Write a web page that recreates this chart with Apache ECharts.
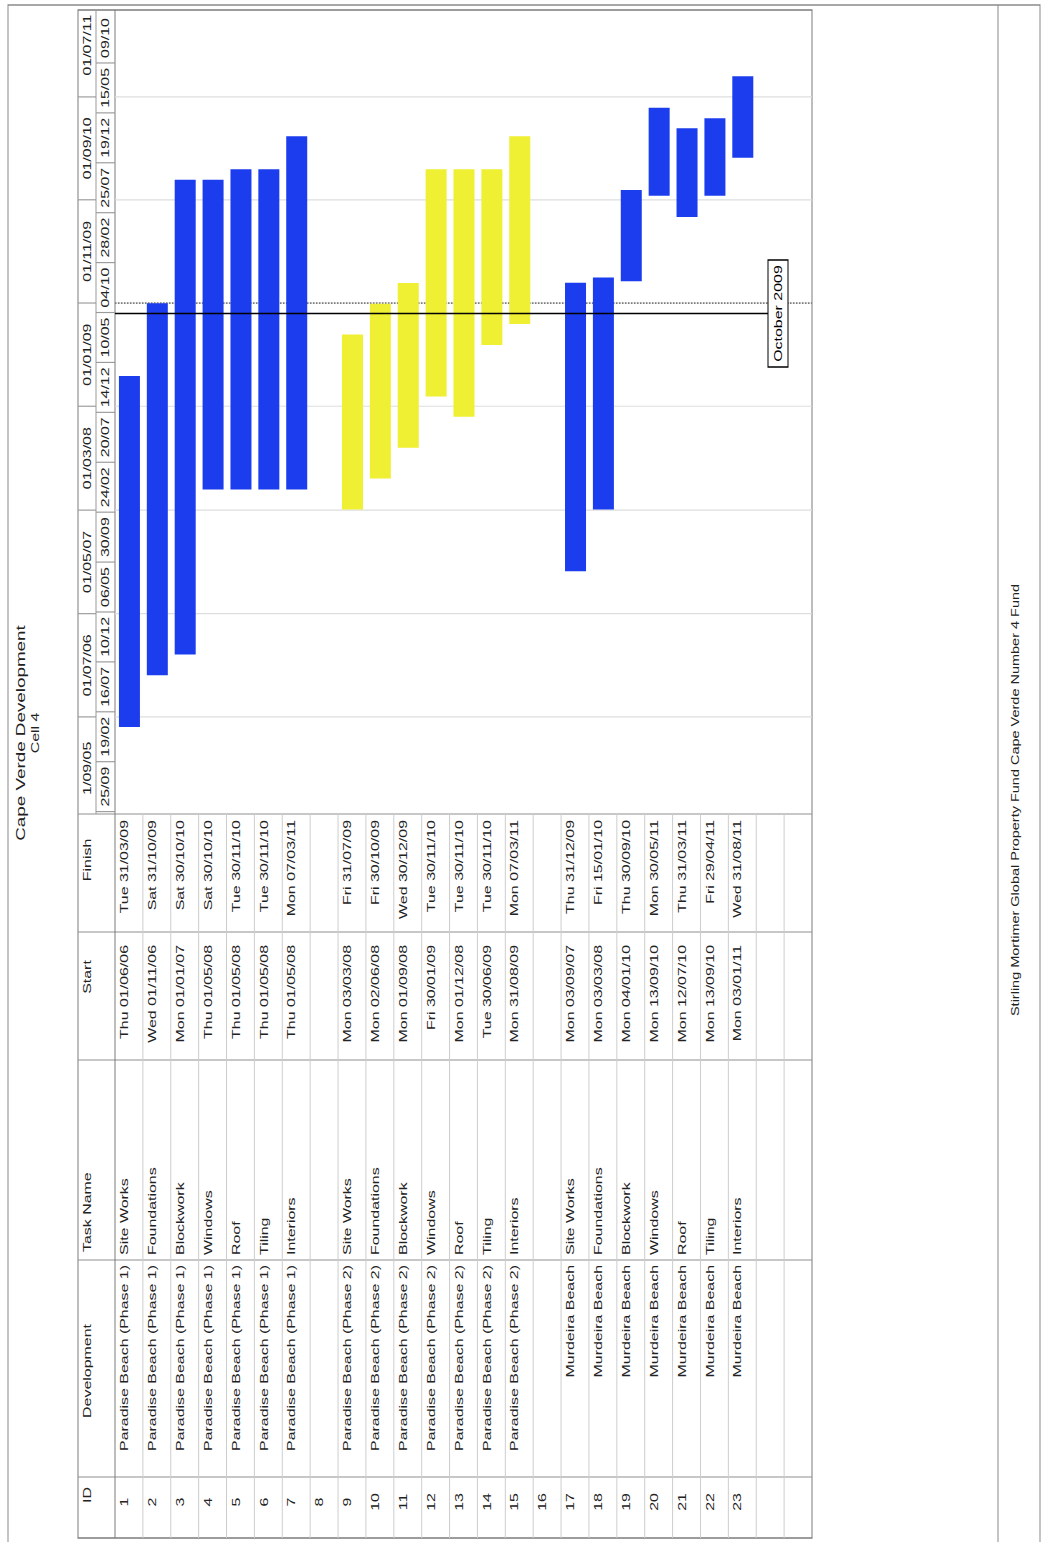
<!DOCTYPE html>
<html>
<head>
<meta charset="utf-8">
<title>Cape Verde Development - Cell 4</title>
<script src="https://cdn.jsdelivr.net/npm/echarts@6/dist/echarts.min.js"></script>
<style>
  html, body { margin: 0; padding: 0; background: #fff; overflow: hidden; width: 1043px; height: 1542px; }
  /* The sheet is laid out in landscape and turned a quarter to the left;
     the time direction is stretched to fill the long side. */
  #sheet {
    position: absolute; left: 0; top: 0;
    width: 1064px; height: 1043px;
    transform-origin: 0 0;
    transform: translate(0, 1542px) rotate(-90deg) scaleX(1.4492481);
  }
</style>
</head>
<body>
<div id="sheet"></div>
<script>
// ---------------- schedule data ----------------
const rowIds = ['1','2','3','4','5','6','7','8','9','10','11','12','13','14','15','16','17','18','19','20','21','22','23','',''];

const developments = [
  'Paradise Beach (Phase 1)','Paradise Beach (Phase 1)','Paradise Beach (Phase 1)','Paradise Beach (Phase 1)',
  'Paradise Beach (Phase 1)','Paradise Beach (Phase 1)','Paradise Beach (Phase 1)',
  '',
  'Paradise Beach (Phase 2)','Paradise Beach (Phase 2)','Paradise Beach (Phase 2)','Paradise Beach (Phase 2)',
  'Paradise Beach (Phase 2)','Paradise Beach (Phase 2)','Paradise Beach (Phase 2)',
  '',
  'Murdeira Beach','Murdeira Beach','Murdeira Beach','Murdeira Beach',
  'Murdeira Beach','Murdeira Beach','Murdeira Beach',
  '', ''
];

const taskNames = [
  'Site Works','Foundations','Blockwork','Windows','Roof','Tiling','Interiors',
  '',
  'Site Works','Foundations','Blockwork','Windows','Roof','Tiling','Interiors',
  '',
  'Site Works','Foundations','Blockwork','Windows','Roof','Tiling','Interiors',
  '', ''
];

const startDates = [
  '2006-06-01','2006-11-01','2007-01-01','2008-05-01','2008-05-01','2008-05-01','2008-05-01',
  null,
  '2008-03-03','2008-06-02','2008-09-01','2009-01-30','2008-12-01','2009-06-30','2009-08-31',
  null,
  '2007-09-03','2008-03-03','2010-01-04','2010-09-13','2010-07-12','2010-09-13','2011-01-03',
  null, null
];

const finishDates = [
  '2009-03-31','2009-10-31','2010-10-30','2010-10-30','2010-11-30','2010-11-30','2011-03-07',
  null,
  '2009-07-31','2009-10-30','2009-12-30','2010-11-30','2010-11-30','2010-11-30','2011-03-07',
  null,
  '2009-12-31','2010-01-15','2010-09-30','2011-05-30','2011-03-31','2011-04-29','2011-08-31',
  null, null
];

const barColors = {
  'Paradise Beach (Phase 1)': '#1b3ded',
  'Paradise Beach (Phase 2)': '#efef34',
  'Murdeira Beach': '#1b3ded'
};

// timescale tiers (each list closes with the end of its last cell)
const topTierDates = ['2005-09-01','2006-07-01','2007-05-01','2008-03-01','2009-01-01','2009-11-01','2010-09-01','2011-07-01','2012-05-01'];
const topTierLabels = ['1/09/05','01/07/06','01/05/07','01/03/08','01/01/09','01/11/09','01/09/10','01/07/11'];
const bottomTierDates = ['2005-09-25','2006-02-19','2006-07-16','2006-12-10','2007-05-06','2007-09-30','2008-02-24','2008-07-20',
  '2008-12-14','2009-05-10','2009-10-04','2010-02-28','2010-07-25','2010-12-19','2011-05-15','2011-10-09','2012-03-04'];
const bottomTierLabels = ['25/09','19/02','16/07','10/12','06/05','30/09','24/02','20/07','14/12','10/05','04/10','28/02','25/07','19/12','15/05','09/10'];

const viewStart = '2005-09-18';
const viewEnd = '2012-03-13';
const currentDate = '2009-11-01';
const statusDate = '2009-10-01';

const titleLines = ['Cape Verde Development', 'Cell 4'];
const footerText = 'Stirling Mortimer Global Property Fund Cape Verde Number 4 Fund';
const columnHeaders = ['ID', 'Development', 'Task Name', 'Start', 'Finish'];

// ---------------- helpers ----------------
const SX = 1542 / 1064;               // stretch along the time direction
const px = X => X / SX;               // sheet position -> canvas position
const FONT = '"Liberation Sans", Arial, Helvetica, sans-serif';
const INK = '#222222';
const ts = s => Date.parse(s + 'T00:00:00Z');
const WEEKDAYS = ['Sun','Mon','Tue','Wed','Thu','Fri','Sat'];
const MONTHS = ['January','February','March','April','May','June','July','August','September','October','November','December'];
const two = n => String(n).padStart(2, '0');
function taskDateLabel(s) {
  if (!s) return '';
  const d = new Date(ts(s));
  return WEEKDAYS[d.getUTCDay()] + ' ' + two(d.getUTCDate()) + '/' + two(d.getUTCMonth() + 1) + '/' + two(d.getUTCFullYear() % 100);
}
function monthLabel(s) {
  const d = new Date(ts(s));
  return MONTHS[d.getUTCMonth()] + ' ' + d.getUTCFullYear();
}

// sheet layout (landscape units)
const L = {
  tableLeft: 4, idDiv: 65, devDiv: 282, taskDiv: 482, startDiv: 610, chartLeft: 728, chartRight: 1532,
  headTop: 78, tierDiv: 96, headBottom: 115, tableBottom: 812,
  statusBoxTop: 768, statusBoxH: 20, statusBoxW: 107
};
const gridLeft = px(L.chartLeft), gridRight = px(L.chartRight);

function txt(x, y, text, align, size, fill) {
  return {
    type: 'text', x: x, y: y, silent: true,
    style: { text: text, align: align || 'left', verticalAlign: 'middle', fontSize: size || 11, fontFamily: FONT, fill: fill || INK }
  };
}
function seg(x1, y1, x2, y2, stroke, w, dash) {
  return { type: 'line', silent: true, shape: { x1: x1, y1: y1, x2: x2, y2: y2 },
    style: { stroke: stroke, lineWidth: w || 1, lineDash: dash || null } };
}

// ---------------- series data ----------------
const taskData = [];
startDates.forEach((s, i) => { if (s) taskData.push([ts(s), ts(finishDates[i]), i]); });

const tableData = rowIds.map((id, i) => [ts(viewStart), i]);
const topTierData = topTierLabels.map((lab, i) => [ts(topTierDates[i]), ts(topTierDates[i + 1]), 0, i]);
const bottomTierData = bottomTierLabels.map((lab, i) => [ts(bottomTierDates[i]), ts(bottomTierDates[i + 1]), 0, i]);

// ---------------- static page furniture ----------------
const furniture = [];
// page frame
furniture.push({ type: 'rect', silent: true, shape: { x: -2, y: 8, width: px(1537) + 2, height: 1032 },
  style: { fill: 'none', stroke: '#8a8a8a', lineWidth: 1 } });
furniture.push(seg(-2, 998, px(1537), 998, '#8a8a8a'));
// title + footer
furniture.push(txt(px(809), 20, titleLines[0], 'center', 13));
furniture.push(txt(px(809), 35, titleLines[1], 'center', 11));
furniture.push(txt(px(742), 1016, footerText, 'center', 10));
// table frame and column rules
furniture.push({ type: 'rect', silent: true,
  shape: { x: px(L.tableLeft), y: L.headTop, width: px(L.chartRight) - px(L.tableLeft), height: L.tableBottom - L.headTop },
  style: { fill: 'none', stroke: '#7c7c7c', lineWidth: 1 } });
[L.idDiv, L.devDiv, L.taskDiv, L.startDiv, L.chartLeft].forEach(X =>
  furniture.push(seg(px(X), L.headTop, px(X), L.tableBottom, '#8f8f8f', 0.8)));
furniture.push(seg(px(L.tableLeft), L.headBottom, px(L.chartRight), L.headBottom, '#7c7c7c'));
furniture.push(seg(px(L.chartLeft), L.tierDiv, px(L.chartRight), L.tierDiv, '#9a9a9a'));
// column headings
furniture.push(txt(px(47), 87, columnHeaders[0], 'center'));
furniture.push(txt(px(171), 87, columnHeaders[1], 'center'));
furniture.push(txt(px(290), 87, columnHeaders[2], 'left'));
furniture.push(txt(px(565), 87, columnHeaders[3], 'center'));
furniture.push(txt(px(682), 87, columnHeaders[4], 'center'));

// ---------------- chart ----------------
const chart = echarts.init(document.getElementById('sheet'), null, { renderer: 'svg', width: 1064, height: 1043 });

const option = {
  animation: false,
  useUTC: true,
  backgroundColor: '#ffffff',
  grid: { left: gridLeft, right: 1064 - gridRight, top: L.headBottom, bottom: 1043 - L.tableBottom, containLabel: false },
  xAxis: { type: 'time', min: ts(viewStart), max: ts(viewEnd), show: false },
  yAxis: { type: 'category', inverse: true, data: rowIds.map((id, i) => i), show: false },
  graphic: furniture,
  series: [
    // table rows: ID, development, task, start, finish
    {
      name: 'table', type: 'custom', silent: true, z: 1,
      encode: { x: 0, y: 1 },
      data: tableData,
      renderItem: function (params, api) {
        const i = api.value(1);
        const c = api.coord([api.value(0), i]);
        const band = api.size([0, 1])[1];
        const top = c[1] - band / 2;
        const ty = top + 9.5;
        const kids = [];
        if (i < rowIds.length - 1) kids.push(seg(px(L.tableLeft), top + band, px(L.chartLeft), top + band, '#cdcdcd', 1));
        kids.push(txt(px(40), ty, rowIds[i], 'center'));
        kids.push(txt(px(277), ty, developments[i], 'right'));
        kids.push(txt(px(287), ty, taskNames[i], 'left'));
        kids.push(txt(px(597), ty, taskDateLabel(startDates[i]), 'right'));
        kids.push(txt(px(722), ty, taskDateLabel(finishDates[i]), 'right'));
        return { type: 'group', children: kids };
      }
    },
    // upper timescale tier + its gridlines
    {
      name: 'topTier', type: 'custom', silent: true, z: 1,
      encode: { x: [0, 1], y: 2 },
      data: topTierData,
      renderItem: function (params, api) {
        const x0 = api.coord([api.value(0), 0])[0];
        const x1 = api.coord([api.value(1), 0])[0];
        const kids = [];
        if (x0 > gridLeft + 0.5 && x0 < gridRight - 0.5) {
          kids.push(seg(x0, L.headTop, x0, L.tierDiv, '#9a9a9a', 0.8));
          kids.push(seg(x0, L.headBottom, x0, L.tableBottom, '#dedede', 0.8));
        }
        kids.push(txt((x0 + x1) / 2, 87, topTierLabels[api.value(3)], 'center'));
        return { type: 'group', children: kids };
      }
    },
    // lower timescale tier
    {
      name: 'bottomTier', type: 'custom', silent: true, z: 1,
      encode: { x: [0, 1], y: 2 },
      data: bottomTierData,
      renderItem: function (params, api) {
        const x0 = api.coord([api.value(0), 0])[0];
        const x1 = api.coord([api.value(1), 0])[0];
        const kids = [];
        if (x0 > gridLeft + 0.5 && x0 < gridRight - 0.5) kids.push(seg(x0, L.tierDiv, x0, L.headBottom, '#9a9a9a', 0.8));
        kids.push(txt((x0 + x1) / 2, 105.5, bottomTierLabels[api.value(3)], 'center'));
        return { type: 'group', children: kids };
      }
    },
    // current date (dotted)
    {
      name: 'currentDate', type: 'custom', silent: true, z: 2,
      encode: { x: 0, y: 1 },
      data: [[ts(currentDate), 0]],
      renderItem: function (params, api) {
        const x = api.coord([api.value(0), 0])[0];
        return seg(x, L.headBottom, x, L.tableBottom, '#7d7d7d', 1.2, [1.5, 1.5]);
      }
    },
    // task bars
    {
      name: 'tasks', type: 'custom', silent: true, z: 3,
      encode: { x: [0, 1], y: 2 },
      data: taskData,
      renderItem: function (params, api) {
        const row = api.value(2);
        const p0 = api.coord([api.value(0), row]);
        const p1 = api.coord([api.value(1), row]);
        const h = 21;
        return { type: 'rect', shape: { x: p0[0], y: p0[1] - h / 2 + 0.5, width: p1[0] - p0[0], height: h },
          style: { fill: barColors[developments[row]] } };
      }
    },
    // status marker
    {
      name: 'status', type: 'custom', silent: true, z: 4,
      encode: { x: 0, y: 1 },
      data: [[ts(statusDate), 0]],
      renderItem: function (params, api) {
        const x = api.coord([api.value(0), 0])[0];
        const w = px(L.statusBoxW);
        return { type: 'group', children: [
          seg(x, L.headBottom, x, L.statusBoxTop, '#000000', 1.1),
          { type: 'rect', shape: { x: x - w / 2, y: L.statusBoxTop, width: w, height: L.statusBoxH },
            style: { fill: '#ffffff', stroke: '#000000', lineWidth: 1 } },
          txt(x, L.statusBoxTop + L.statusBoxH / 2 + 0.5, monthLabel(statusDate), 'center', 11, '#000000')
        ] };
      }
    }
  ]
};

chart.setOption(option);
</script>
</body>
</html>
